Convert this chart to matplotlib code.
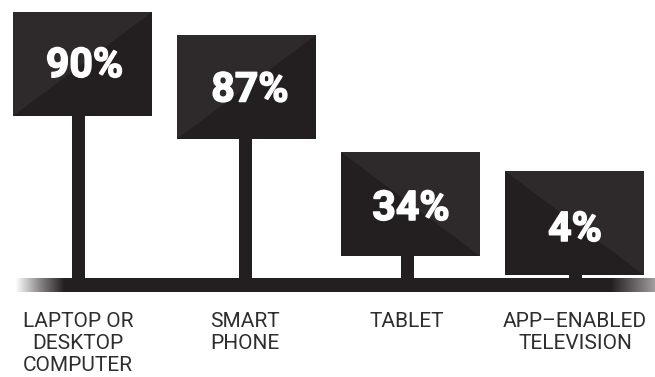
import matplotlib
matplotlib.use("Agg")
import matplotlib.pyplot as plt
import matplotlib.patheffects as pe
import numpy as np
from matplotlib.colors import LinearSegmentedColormap

# Values
categories = ["LAPTOP OR\nDESKTOP\nCOMPUTER", "SMART\nPHONE", "TABLET", "APP\u2013ENABLED\nTELEVISION"]
share_labels = ["90%", "87%", "34%", "4%"]
# the stems are not to scale with the shares, so keep what is drawn
stem_heights = [162.5, 140, 22.5, 3.5]
positions = [78.5, 245.5, 407.5, 575]
label_x = [78, 245, 407, 575]
panel_x = [82, 246, 410, 574]
# the numbers sit a little off centre in the panels
text_dx = [2.5, 4, 1, 1]
text_dy = [2, 0, -1, -3]

dark = "#231f20"
light = "#2e2a2b"
panel_w = 139
panel_h = 104

fig = plt.figure(figsize=(6.55, 3.77), dpi=100)
ax = fig.add_axes([0, 0, 1, 1])
ax.set_xlim(0, 655)
ax.set_ylim(-98.5, 278.5)
ax.axis("off")

# stems and panels
ax.bar(positions, stem_heights, width=13, color=dark, align="center")
ax.bar(panel_x, [panel_h] * 4, width=panel_w, bottom=stem_heights, color=dark, align="center")

# lighter diagonal half on each panel
for i, (x, h) in enumerate(zip(panel_x, stem_heights)):
    left, right = x - panel_w / 2, x + panel_w / 2
    if i < 2:
        ax.fill([left, left, right], [h, h + panel_h, h + panel_h], color=light, lw=0)
    else:
        ax.fill([left, right, right], [h + panel_h, h + panel_h, h], color=light, lw=0)
    ax.text(x + text_dx[i], h + panel_h / 2 + text_dy[i], share_labels[i], color="white",
            ha="center", va="center_baseline", fontsize=29.5, family="Roboto", weight="bold",
            path_effects=[pe.withStroke(linewidth=1.1, foreground="white")])

# ground line, fades out at both ends
cmap = LinearSegmentedColormap.from_list("ground", ["#ffffff", "#8a8687", dark])
ramp = np.ones(655)
ramp[:15] = 0
ramp[15:65] = np.linspace(0, 1, 50)
ramp[610:] = np.linspace(1, 0.4, 45)
ax.imshow(ramp[np.newaxis, :], extent=(0, 655, -14, 0), aspect="auto", cmap=cmap, vmin=0, vmax=1,
          interpolation="bilinear", zorder=3)
ax.set_xlim(0, 655)
ax.set_ylim(-98.5, 278.5)

for x, name in zip(label_x, categories):
    ax.text(x, -33.5, name, color="#2e2e2e", ha="center", va="top", fontsize=15, family="Roboto",
            linespacing=1.2)

fig.savefig("out.png", dpi=100, facecolor="white")
